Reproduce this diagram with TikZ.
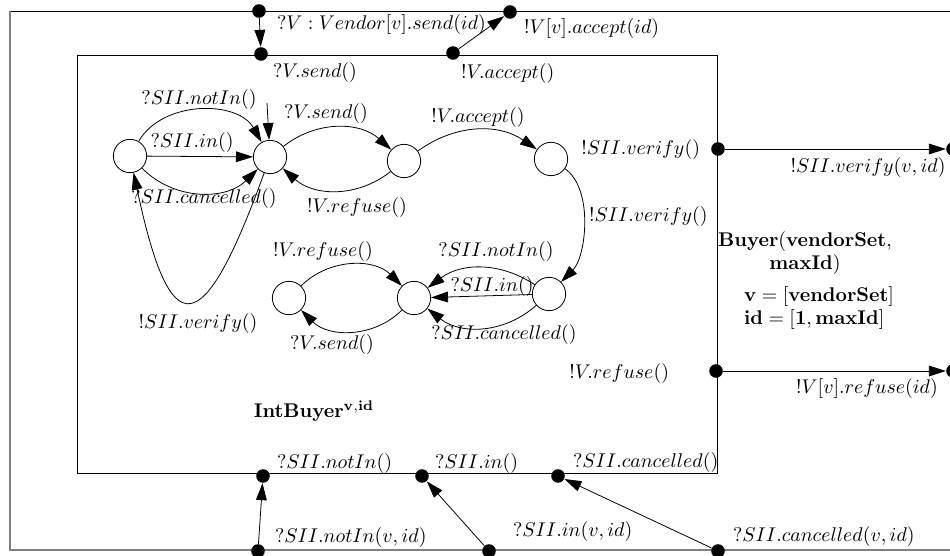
\documentclass[tikz,border=0pt]{standalone}
\usetikzlibrary{arrows.meta}

\begin{document}
\begin{tikzpicture}[x=0.177mm, y=0.177mm,
  loc/.style={circle, draw, minimum size=5.9mm, inner sep=0pt},
  port/.style={circle, fill, minimum size=2.4mm, inner sep=0pt},
  shadowline/.style={draw=gray, line width=1.1pt},
  >={Triangle[length=3mm, width=1.9mm]}]
\useasboundingbox (0,0) rectangle (950,-556);

% Frames
\draw (10,-11) -- (970,-11);
\draw[shadowline] (10,-11) -- (10,-550) -- (970,-550);
\draw (77,-55) rectangle (717,-473);

% Define nodes
\path
(130,-156) node[loc] (A) {}
(270,-157) node[loc] (B) {}
(404,-161) node[loc] (C) {}
(551,-159) node[loc] (D) {}
(549,-294) node[loc] (E) {}
(414,-298) node[loc] (F) {}
(289,-298) node[loc] (G) {}
(267,-103) coordinate (init)
;

% Ports
\path
(259,-11) node[port] (sendout) {}
(261,-54) node[port] (sendin) {}
(453,-53) node[port] (acceptin) {}
(510,-12) node[port] (acceptout) {}
(718,-149) node[port] (verifyin) {}
(953,-149) node[port] (verifyout) {}
(716,-371) node[port] (refusein) {}
(953,-371) node[port] (refuseout) {}
(263,-476) node[port] (notinin) {}
(422,-476) node[port] (inin) {}
(558,-476) node[port] (cancin) {}
(258,-551) node[port] (notinout) {}
(489,-551) node[port] (inout) {}
(718,-551) node[port] (cancout) {}
;

% Port labels
\path
(270,-25) node[anchor=west] (lsendout) {$?V : Vendor[v].send(id)$}
(266,-73) node[anchor=west] (lsendin) {$?V.send()$}
(454,-74) node[anchor=west] (lacceptin) {$!V.accept()$}
(517,-29) node[anchor=west] (lacceptout) {$!V[v].accept(id)$}
(707,-150) node[anchor=east] (lverifyin) {$!SII.verify()$}
(868,-168) node (lverifyout) {$!SII.verify(v,id)$}
(676,-374) node[anchor=east] (lrefusein) {$!V.refuse()$}
(867,-389) node (lrefuseout) {$!V[v].refuse(id)$}
(270,-464) node[anchor=west] (lnotinin) {$?SII.notIn()$}
(428,-464) node[anchor=west] (linin) {$?SII.in()$}
(566,-463) node[anchor=west] (lcancin) {$?SII.cancelled()$}
(268,-538) node[anchor=west] (lnotinout) {$?SII.notIn(v,id)$}
(506,-532) node[anchor=west] (linout) {$?SII.in(v,id)$}
(726,-537) node[anchor=west] (lcancout) {$?SII.cancelled(v,id)$}
(314,-411) node (intbuyer) {\textbf{IntBuyer}$^{\mathbf{v,id}}$}
(805,-253) node[align=center] (buyer) {\textbf{Buyer}(\textbf{vendorSet},\\ \textbf{maxId})}
(737,-308) node[anchor=west, align=left] (ranges) {$\mathbf{v} = [\mathbf{vendorSet}]$\\ $\mathbf{id} = [\mathbf{1}, \mathbf{maxId}]$}
;

% Transition labels
\path
(199,-100) node (tAB1) {$?SII.notIn()$}
(192,-143) node (tAB2) {$?SII.in()$}
(204,-199) node (tAB3) {$?SII.cancelled()$}
(326,-114) node (tBC) {$?V.send()$}
(357,-208) node (tCB) {$!V.refuse()$}
(478,-118) node (tCD) {$!V.accept()$}
(582,-217) node[anchor=west] (tDE) {$!SII.verify()$}
(198,-324) node (tBA) {$!SII.verify()$}
(323,-252) node (tGF) {$!V.refuse()$}
(332,-345) node (tFG) {$?V.send()$}
(496,-252) node (tEF1) {$?SII.notIn()$}
(492,-287) node (tEF2) {$?SII.in()$}
(504,-335) node (tEF3) {$?SII.cancelled()$}
;

% Transitions
\draw[->] (init) -- (B);
\draw[->] (A) to[bend left=60] (B);
\draw[->] (A) -- (B);
\draw[->] (A) to[bend right=45] (B);
\draw[->] (B) to[bend left=40] (C);
\draw[->] (C) to[bend left=40] (B);
\draw[->] (C) to[bend left=35] (D);
\draw[->] (D) to[out=-35, in=45, looseness=0.8] (E);
\draw[->] (B) to[out=-110, in=-78, looseness=3.5] (A);
\draw[->] (E) to[bend right=35] (F);
\draw[->] (E) -- (F);
\draw[->] (E) to[bend left=40] (F);
\draw[->] (G) to[bend left=45] (F);
\draw[->] (F) to[bend left=45] (G);

% Port connections
\draw[->] (sendout) -- (sendin);
\draw[->] (acceptin) -- (acceptout);
\draw[->] (verifyin) -- (verifyout);
\draw[->] (refusein) -- (refuseout);
\draw[->] (notinout) -- (notinin);
\draw[->] (inout) -- (inin);
\draw[->] (cancout) -- (cancin);

\end{tikzpicture}
\end{document}
